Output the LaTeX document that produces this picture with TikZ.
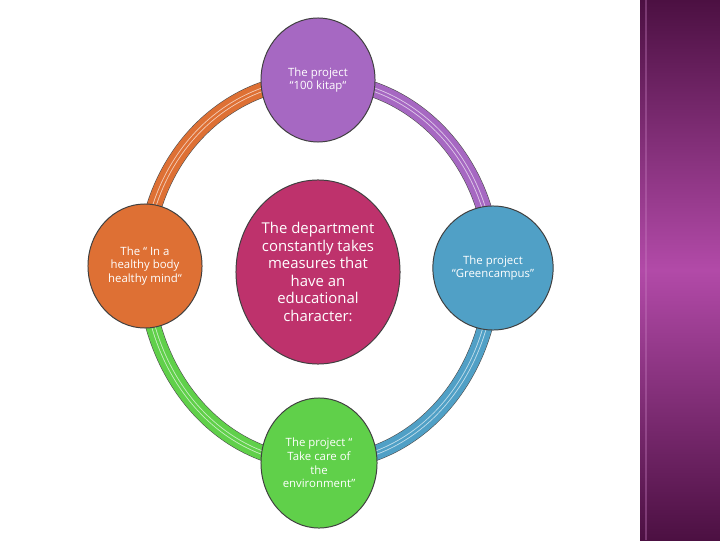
\documentclass[tikz,border=0pt]{standalone}
\usepackage{fontspec}
\setmainfont{Open Sans}
\usetikzlibrary{shapes.geometric,backgrounds}

\definecolor{topcol}{RGB}{166,104,194}
\definecolor{leftcol}{RGB}{222,112,52}
\definecolor{rightcol}{RGB}{80,160,198}
\definecolor{botcol}{RGB}{96,208,74}
\definecolor{midcol}{RGB}{190,50,108}
\definecolor{stripdark}{RGB}{76,16,66}
\definecolor{striplight}{RGB}{178,74,168}

\tikzset{
  bubble/.style={ellipse,draw=black!75,line width=.7pt,text=white,align=center,
    minimum width=2.85cm,minimum height=3.1cm,inner sep=1pt,font=\fontsize{8.1}{9.7}\selectfont},
  ringout/.style={draw=black!70,line width=11.2pt},
  ringband/.style={line width=10.4pt},
  ringshine/.style={line width=3pt},
  ringcore/.style={line width=1.8pt}
}

\begin{document}
\begin{tikzpicture}[x=0.025cm,y=0.025cm]
\useasboundingbox (0,0) rectangle (720,540);

% bubbles
\node[bubble,fill=topcol] (top) at (318,460) {The project\\ ``100 kitap``};
\node[bubble,fill=leftcol] (left) at (145,274) {The `` In a\\ healthy body\\ healthy mind``};
\node[bubble,fill=rightcol] (right) at (493,272) {The project\\ ``Greencampus''};
\node[bubble,fill=botcol,minimum width=2.9cm,minimum height=3.25cm] (bot) at (319,77) {The project ``\\ Take care of\\ the\\ environment''};
\node[bubble,fill=midcol,minimum width=4.1cm,minimum height=4.6cm,
  font=\fontsize{10.6}{12.4}\selectfont] (mid) at (318,268)
  {The department\\ constantly takes\\ measures that\\ have an\\ educational\\ character:};

% ring and strip
\begin{scope}[on background layer]
\fill[white] (0,0) rectangle (720,540);
\shade[top color=stripdark,bottom color=stripdark,middle color=striplight] (640,0) rectangle (720,540);
\draw[striplight!70!white,opacity=.35,line width=.8pt] (646,0) -- (646,540);
\foreach \a/\b/\oa/\ia/\c in {top/left/180/90/leftcol,top/right/0/90/topcol,
    right/bot/270/0/rightcol,bot/left/180/270/botcol}{
  \draw[ringout] (\a.center) to[out=\oa,in=\ia] (\b.center);
  \draw[ringband,\c] (\a.center) to[out=\oa,in=\ia] (\b.center);
  \draw[ringshine,\c!35!white] (\a.center) to[out=\oa,in=\ia] (\b.center);
  \draw[ringcore,\c] (\a.center) to[out=\oa,in=\ia] (\b.center);
}
\end{scope}
\end{tikzpicture}
\end{document}
